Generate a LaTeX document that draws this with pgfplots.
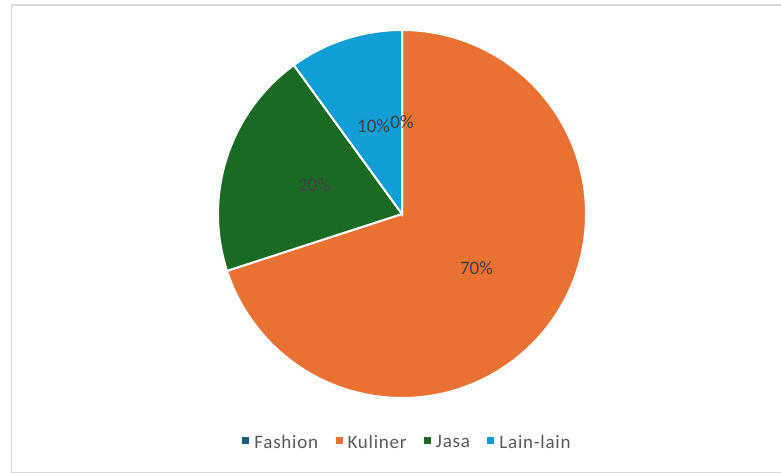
\documentclass[border=0pt]{standalone}
\usepackage{pgfplots}
\pgfplotsset{compat=1.18}
\usepackage{fontspec}
\setmainfont{Carlito}
\newfontfamily\legfont[LetterSpace=4]{Carlito}
\definecolor{cFashion}{HTML}{156082}
\definecolor{cKuliner}{HTML}{E97132}
\definecolor{cJasa}{HTML}{196B24}
\definecolor{cLain}{HTML}{0F9ED5}
\definecolor{labelgray}{HTML}{404040}
\definecolor{leggray}{HTML}{595959}
\definecolor{bordergray}{HTML}{D9D9D9}
% data (percent)
\def\vFashion{0}
\def\vKuliner{70}
\def\vJasa{20}
\def\vLain{10}
\begin{document}
\begin{tikzpicture}
\useasboundingbox (0,0) rectangle (781pt,473pt);
\draw[bordergray, line width=1.5pt] (11.5pt,0.5pt) rectangle (790pt,468pt);
\pgfmathsetmacro{\aA}{90}
\pgfmathsetmacro{\aB}{\aA-3.6*\vFashion}
\pgfmathsetmacro{\aC}{\aB-3.6*\vKuliner}
\pgfmathsetmacro{\aD}{\aC-3.6*\vJasa}
\pgfmathsetmacro{\aE}{\aD-3.6*\vLain}
\begin{axis}[
  x=184pt, y=184pt, xmin=-1, xmax=1, ymin=-1, ymax=1,
  hide axis, clip=false,
  at={(402pt,259pt)}, anchor=center,
  legend columns=4,
  legend image code/.code={\fill[#1,draw=none] (0pt,-1pt) rectangle (7pt,6pt); \path (9pt,0pt);},
  legend style={draw=none, fill=none, at={(0.515,-0.121)}, anchor=center,
    font=\legfont\fontsize{19}{22}\selectfont, text=leggray,
    /tikz/every even column/.append style={column sep=15.5pt},
    cells={anchor=west}},
]
\addplot[fill=cFashion, draw=white, line width=2pt, samples at={\aB,\aA}]
  ({cos(x)},{sin(x)}) -- (axis cs:0,0) -- cycle;
\addlegendentry{Fashion}
\addplot[fill=cKuliner, draw=white, line width=2pt, domain=\aC:\aB, samples=150]
  ({cos(x)},{sin(x)}) -- (axis cs:0,0) -- cycle;
\addlegendentry{Kuliner}
\addplot[fill=cJasa, draw=white, line width=2pt, domain=\aD:\aC, samples=60]
  ({cos(x)},{sin(x)}) -- (axis cs:0,0) -- cycle;
\addlegendentry{Jasa}
\addplot[fill=cLain, draw=white, line width=2pt, domain=\aE:\aD, samples=40]
  ({cos(x)},{sin(x)}) -- (axis cs:0,0) -- cycle;
\addlegendentry{Lain-lain}
\pgfmathsetmacro{\mA}{(\aA+\aB)/2}
\pgfmathsetmacro{\mB}{(\aB+\aC)/2}
\pgfmathsetmacro{\mC}{(\aC+\aD)/2}
\pgfmathsetmacro{\mD}{(\aD+\aE)/2}
\node[text=labelgray, font=\fontsize{19}{22}\selectfont] at (axis cs:{0.5*cos(\mA)},{0.5*sin(\mA)}) {\vFashion\%};
\node[text=labelgray, font=\fontsize{19}{22}\selectfont] at (axis cs:{0.5*cos(\mB)},{0.5*sin(\mB)}) {\vKuliner\%};
\node[text=labelgray, font=\fontsize{19}{22}\selectfont] at (axis cs:{0.5*cos(\mC)},{0.5*sin(\mC)}) {\vJasa\%};
\node[text=labelgray, font=\fontsize{19}{22}\selectfont] at (axis cs:{0.5*cos(\mD)},{0.5*sin(\mD)}) {\vLain\%};
\end{axis}
\end{tikzpicture}
\end{document}
